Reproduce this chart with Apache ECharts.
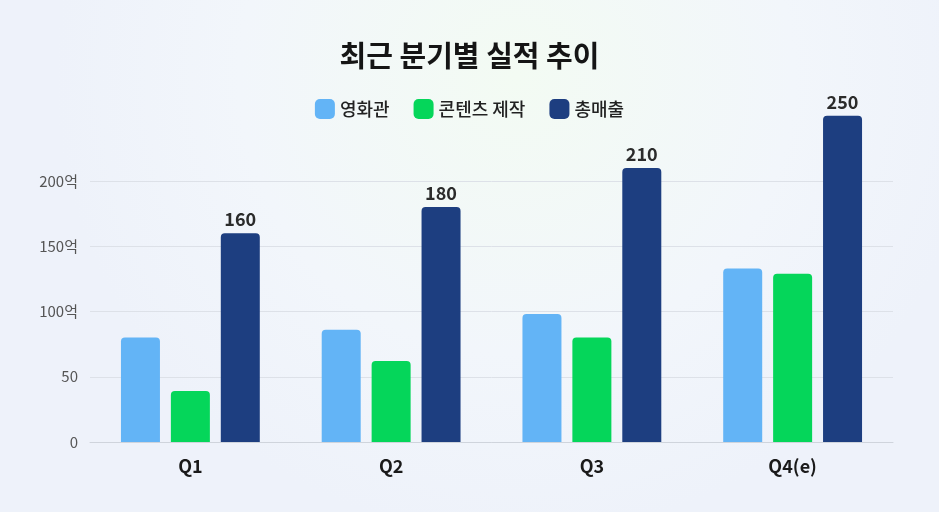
<!DOCTYPE html>
<html>
<head>
<meta charset="utf-8">
<style>
  html, body { margin: 0; padding: 0; }
  #container { width: 939px; height: 512px; }
</style>
<script src="https://cdn.jsdelivr.net/npm/echarts@6/dist/echarts.min.js"></script>
</head>
<body>
<div id="container"></div>
<script>
var quarters = ['Q1', 'Q2', 'Q3', 'Q4(e)'];
var theater = [80, 86, 98, 133];
var content = [39, 62, 80, 129];
var totalSales = [160, 180, 210, 250];
var yTicks = [0, 50, 100, 150, 200];

var font = '"Noto Sans CJK KR", "Noto Sans", sans-serif';

var dom = document.getElementById("container");
var myChart = echarts.init(dom);

var option = {
    backgroundColor: {
        type: 'radial', x: 0.55, y: 0.15, r: 0.9,
        colorStops: [
            { offset: 0, color: '#f3fbf3' },
            { offset: 0.6, color: '#f2f6fb' },
            { offset: 1, color: '#eef2fa' }
        ]
    },
    textStyle: { fontFamily: font },
    title: {
        text: '최근 분기별 실적 추이',
        left: 'center',
        top: 36,
        textStyle: { fontSize: 29, fontWeight: 'bold', color: '#151515', fontFamily: font }
    },
    legend: {
        top: 94,
        left: 'center',
        itemWidth: 20,
        itemHeight: 20,
        itemGap: 24,
        icon: 'roundRect',
        textStyle: { fontSize: 18, color: '#222', fontWeight: 500, fontFamily: font },
        data: ['영화관', '콘텐츠 제작', '총매출']
    },
    grid: { left: 90, right: 46, top: 181, bottom: 70 },
    xAxis: {
        type: 'category',
        data: quarters,
        axisTick: { show: false },
        axisLine: { lineStyle: { color: '#cfd4dc' } },
        axisLabel: { fontSize: 18, fontWeight: 'bold', color: '#1a1a1a', margin: 15, fontFamily: font }
    },
    yAxis: {
        type: 'value',
        min: 0,
        max: 200,
        interval: 50,
        axisLabel: {
            fontSize: 15, color: '#555', margin: 12, fontFamily: font,
            formatter: function (v) {
                if (yTicks.indexOf(v) < 0) return '';
                return v >= 100 ? v + '억' : String(v);
            }
        },
        splitLine: { lineStyle: { color: '#dde1e8' } }
    },
    series: [{
        name: '영화관',
        type: 'bar',
        data: theater,
        barWidth: 39,
        barGap: '28%',
        clip: false,
        itemStyle: { color: '#63b4f6', borderRadius: [4, 4, 0, 0] }
    }, {
        name: '콘텐츠 제작',
        type: 'bar',
        data: content,
        barWidth: 39,
        barGap: '28%',
        clip: false,
        itemStyle: { color: '#05d65a', borderRadius: [4, 4, 0, 0] }
    }, {
        name: '총매출',
        type: 'bar',
        data: totalSales,
        barWidth: 39,
        barGap: '28%',
        clip: false,
        itemStyle: { color: '#1d3e80', borderRadius: [4, 4, 0, 0] },
        label: {
            show: true,
            position: 'top',
            distance: 5,
            fontSize: 18,
            fontWeight: 600,
            color: '#2b2b2b',
            fontFamily: font
        }
    }]
};

myChart.setOption(option, true);
</script>
</body>
</html>
